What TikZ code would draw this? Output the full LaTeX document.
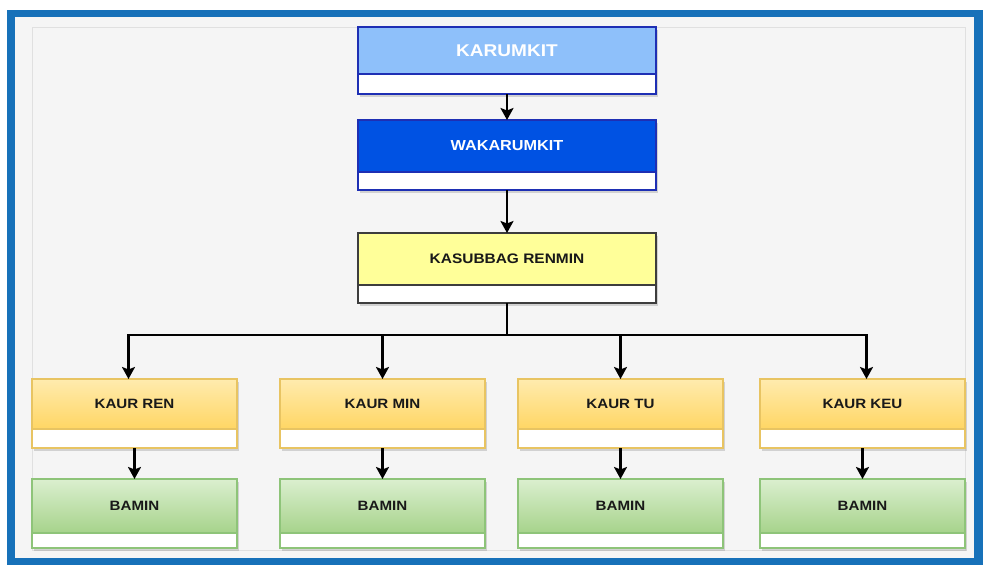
\documentclass[tikz,border=0pt]{standalone}
\usepackage{fontspec}
\newfontfamily\boxfont[FakeStretch=1.12]{Liberation Sans}
\usetikzlibrary{positioning,shadows,arrows.meta}

\definecolor{framecol}{HTML}{1771B9}
\definecolor{sheetcol}{HTML}{F5F5F5}
\definecolor{kartop}{HTML}{8EC0FA}
\definecolor{karline}{HTML}{1E2FB4}
\definecolor{wakatop}{HTML}{0052E3}
\definecolor{renmintop}{HTML}{FFFF99}
\definecolor{renminline}{HTML}{3D3D3D}
\definecolor{kaurlight}{HTML}{FFEBAE}
\definecolor{kaurdark}{HTML}{FFD664}
\definecolor{kaurline}{HTML}{E8C462}
\definecolor{baminlight}{HTML}{DBEFCF}
\definecolor{bamindark}{HTML}{A6D38B}
\definecolor{baminline}{HTML}{8EC479}

\tikzset{
  box/.style={draw, line width=2.5pt, outer sep=0pt, inner sep=0pt,
    drop shadow={shadow xshift=2pt, shadow yshift=-2.5pt, opacity=0.3}},
  strip/.style={box, fill=white},
  chief/.style={box, minimum width=298pt, minimum height=47pt, fill=kartop,
    draw=karline, text=white, font=\boxfont\bfseries\fontsize{17}{19}\selectfont},
  deputy/.style={box, minimum width=298pt, minimum height=52pt, fill=wakatop,
    draw=karline, text=white, font=\boxfont\bfseries\fontsize{14.5}{16}\selectfont},
  head/.style={box, minimum width=298pt, minimum height=52pt, fill=renmintop,
    draw=renminline, text=black!90, font=\boxfont\bfseries\fontsize{13.8}{15}\selectfont},
  kaur/.style={box, line width=2.2pt, minimum width=205pt, minimum height=50pt,
    top color=kaurlight, bottom color=kaurdark, draw=kaurline, text=black!90,
    font=\boxfont\bfseries\fontsize{13.5}{15}\selectfont},
  bamin/.style={box, line width=2.2pt, minimum width=205pt, minimum height=54pt,
    top color=baminlight, bottom color=bamindark, draw=baminline, text=black!90,
    font=\boxfont\bfseries\fontsize{13.5}{15}\selectfont},
  wire/.style={line width=2.8pt, black},
  link/.style={wire, -{Stealth[length=12pt, width=13pt, inset=2.5pt]}}
}

\begin{document}
\begin{tikzpicture}[x=1pt, y=-1pt]
\useasboundingbox (0,0) rectangle (986,565);
% frame and sheet
\fill[white] (0,0) rectangle (986,565);
\fill[framecol] (7,10) rectangle (983,565);
\fill[sheetcol] (15,17) rectangle (974,558);
\draw[black!12, line width=0.8pt] (32,27) rectangle (965,550);

% top chain
\node[chief] (karumkit) at (507,50.5) {KARUMKIT};
\node[strip, draw=karline, minimum width=298pt, minimum height=20pt, below=0pt of karumkit] (karumkit-s) {};
\node[deputy, below=26pt of karumkit-s] (wakarumkit) {WAKARUMKIT};
\node[strip, draw=karline, minimum width=298pt, minimum height=18pt, below=0pt of wakarumkit] (wakarumkit-s) {};
\node[head, below=43pt of wakarumkit-s] (renmin) {KASUBBAG RENMIN};
\node[strip, draw=renminline, minimum width=298pt, minimum height=18pt, below=0pt of renmin] (renmin-s) {};

% kaur row
\node[kaur] (kaurren) at (134.5,404) {KAUR REN};
\node[kaur, right=43pt of kaurren] (kaurmin) {KAUR MIN};
\node[kaur, right=33pt of kaurmin] (kaurtu) {KAUR TU};
\node[kaur, right=37pt of kaurtu] (kaurkeu) {KAUR KEU};
\foreach \n in {kaurren,kaurmin,kaurtu,kaurkeu}
  \node[strip, line width=2.2pt, draw=kaurline, minimum width=205pt, minimum height=19pt, below=0pt of \n] (\n-s) {};

% bamin row
\foreach \n in {kaurren,kaurmin,kaurtu,kaurkeu}{
  \node[bamin, below=31pt of \n-s] (\n-b) {BAMIN};
  \node[strip, line width=2.2pt, draw=baminline, minimum width=205pt, minimum height=15pt, below=0pt of \n-b] (\n-bs) {};
}

% connectors
\draw[link] (karumkit-s) -- (wakarumkit);
\draw[link] (wakarumkit-s) -- (renmin);
\coordinate[below=32pt of renmin-s] (fork);
\draw[wire] (renmin-s) -- (fork);
\path (kaurren.north |- fork) ++(-6pt,0) coordinate (renbus);
\path (kaurkeu.north |- fork) ++(4pt,0) coordinate (keubus);
\draw[wire, line cap=rect] (renbus) -- (keubus);
\draw[link] (renbus) -- (renbus |- kaurren.north);
\draw[link] (fork -| kaurmin) -- (kaurmin);
\draw[link] (fork -| kaurtu) -- (kaurtu);
\draw[link] (keubus) -- (keubus |- kaurkeu.north);
\foreach \n in {kaurren,kaurmin,kaurtu,kaurkeu}
  \draw[link] (\n-s) -- (\n-b);
\end{tikzpicture}
\end{document}
